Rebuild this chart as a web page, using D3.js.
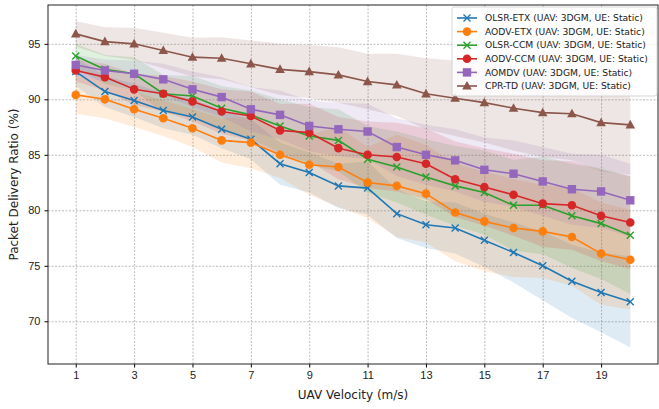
<!DOCTYPE html>
<html>
<head>
<meta charset="utf-8">
<script src="https://cdn.jsdelivr.net/npm/d3@7"></script>
<style>
  body { margin: 0; background: #fff; }
  svg { display: block; font-family: "DejaVu Sans", sans-serif; }
</style>
</head>
<body>
<div id="chart"></div>
<script>
// the data
const velocity = [1, 2, 3, 4, 5, 6, 7, 8, 9, 10, 11, 12, 13, 14, 15, 16, 17, 18, 19, 20];
const xTicks = [1, 3, 5, 7, 9, 11, 13, 15, 17, 19];
const yTicks = [70, 75, 80, 85, 90, 95];

const olsrEtx = [92.5, 90.7, 89.9, 89.0, 88.4, 87.3, 86.4, 84.2, 83.4, 82.2, 82.0, 79.7, 78.7, 78.4, 77.3, 76.2, 75.0, 73.6, 72.6, 71.75];
const olsrEtxLow = [91.2, 89.3, 88.4, 87.4, 86.8, 85.6, 84.6, 82.3, 81.6, 80.2, 79.6, 77.5, 76.6, 76.1, 74.9, 73.5, 71.9, 70.3, 69.0, 67.65];
const olsrEtxHigh = [93.8, 92.1, 91.4, 90.6, 90.0, 89.0, 88.2, 86.1, 85.2, 84.2, 84.4, 81.9, 80.8, 80.7, 79.7, 78.9, 78.1, 76.9, 76.2, 75.85];

const aodvEtx = [90.4, 90.0, 89.1, 88.3, 87.4, 86.3, 86.1, 85.0, 84.1, 83.9, 82.5, 82.2, 81.5, 79.8, 79.0, 78.4, 78.1, 77.6, 76.1, 75.55];
const aodvEtxLow = [88.7, 88.3, 87.5, 86.7, 85.7, 84.3, 83.8, 82.9, 81.4, 80.3, 79.3, 77.6, 77.1, 75.4, 74.5, 74.0, 73.9, 73.2, 71.5, 71.05];
const aodvEtxHigh = [92.1, 91.7, 90.7, 89.9, 89.1, 88.3, 88.4, 87.1, 86.8, 87.5, 85.7, 86.8, 85.9, 84.2, 83.5, 82.8, 82.3, 82.0, 80.7, 80.05];

const olsrCcm = [93.9, 92.7, 92.3, 90.5, 90.3, 89.2, 88.6, 87.6, 86.7, 86.3, 84.6, 83.9, 83.0, 82.2, 81.6, 80.45, 80.45, 79.5, 78.8, 77.75];
const olsrCcmLow = [92.8, 91.4, 90.8, 88.8, 88.5, 87.2, 86.4, 85.2, 84.1, 83.5, 81.6, 80.7, 79.6, 78.6, 77.8, 76.35, 76.05, 74.8, 73.8, 72.45];
const olsrCcmHigh = [95.0, 94.0, 93.8, 92.2, 92.1, 91.2, 90.8, 90.0, 89.3, 89.1, 87.6, 87.1, 86.4, 85.8, 85.4, 84.55, 84.85, 84.2, 83.8, 83.05];

const aodvCcm = [92.6, 92.0, 90.9, 90.5, 89.8, 88.9, 88.5, 87.2, 87.0, 85.6, 85.0, 84.8, 84.2, 82.8, 82.1, 81.4, 80.6, 80.45, 79.5, 78.9];
const aodvCcmLow = [91.6, 90.8, 89.5, 88.9, 88.0, 86.9, 86.3, 84.8, 84.4, 82.8, 82.0, 81.7, 81.0, 79.4, 78.6, 77.7, 76.7, 76.45, 75.4, 74.7];
const aodvCcmHigh = [93.6, 93.2, 92.3, 92.1, 91.6, 90.9, 90.7, 89.6, 89.6, 88.4, 88.0, 87.9, 87.4, 86.2, 85.6, 85.1, 84.5, 84.45, 83.6, 83.1];

const aomdv = [93.1, 92.6, 92.3, 91.8, 90.9, 90.2, 89.1, 88.6, 87.6, 87.3, 87.1, 85.7, 85.0, 84.5, 83.65, 83.3, 82.6, 81.9, 81.7, 80.9];
const aomdvLow = [92.2, 91.6, 91.1, 90.4, 89.3, 88.4, 87.1, 86.4, 85.3, 84.9, 84.6, 83.1, 82.3, 81.7, 80.75, 80.3, 79.5, 78.7, 78.4, 77.6];
const aomdvHigh = [94.0, 93.6, 93.5, 93.2, 92.5, 92.0, 91.1, 90.8, 89.9, 89.7, 89.6, 88.3, 87.7, 87.3, 86.55, 86.3, 85.7, 85.1, 85.0, 84.2];

const cprTd = [95.9, 95.2, 95.0, 94.4, 93.8, 93.7, 93.2, 92.7, 92.5, 92.2, 91.6, 91.3, 90.5, 90.1, 89.7, 89.2, 88.8, 88.7, 87.9, 87.7];
const cprTdLow = [94.75, 93.9, 93.55, 92.8, 92.05, 91.8, 91.1, 90.4, 90.1, 89.7, 89.1, 88.5, 87.3, 86.7, 86.1, 85.4, 84.8, 84.5, 83.5, 83.2];
const cprTdHigh = [97.05, 96.5, 96.45, 96.0, 95.55, 95.6, 95.3, 95.0, 94.9, 94.7, 94.1, 94.1, 93.7, 93.5, 93.3, 93.0, 92.8, 92.9, 92.3, 92.2];

const series = [
    { name: "OLSR-ETX (UAV: 3DGM, UE: Static)", color: "#1f77b4", marker: "x", mean: olsrEtx, low: olsrEtxLow, high: olsrEtxHigh },
    { name: "AODV-ETX (UAV: 3DGM, UE: Static)", color: "#ff7f0e", marker: "circle", mean: aodvEtx, low: aodvEtxLow, high: aodvEtxHigh },
    { name: "OLSR-CCM (UAV: 3DGM, UE: Static)", color: "#2ca02c", marker: "x", mean: olsrCcm, low: olsrCcmLow, high: olsrCcmHigh },
    { name: "AODV-CCM (UAV: 3DGM, UE: Static)", color: "#d62728", marker: "circle", mean: aodvCcm, low: aodvCcmLow, high: aodvCcmHigh },
    { name: "AOMDV (UAV: 3DGM, UE: Static)", color: "#9467bd", marker: "square", mean: aomdv, low: aomdvLow, high: aomdvHigh },
    { name: "CPR-TD (UAV: 3DGM, UE: Static)", color: "#8c564b", marker: "triangle", mean: cprTd, low: cprTdLow, high: cprTdHigh }
];

// the sizes
const width = 659, height = 409;
const margins = { top: 5, left: 48, bottom: 45, right: 1 };

const svg = d3.select("#chart").append("svg")
    .attr("width", width).attr("height", height);

const xScale = d3.scaleLinear().domain([0.05, 20.95])
    .range([margins.left, width - margins.right]);
const yScale = d3.scaleLinear().domain([66.15, 98.5])
    .range([height - margins.bottom, margins.top]);

// gridlines
svg.append("g").attr("class", "xGrid")
    .attr("transform", "translate(0," + (height - margins.bottom) + ")")
    .call(d3.axisBottom(xScale).tickValues(xTicks)
        .tickSize(-(height - margins.top - margins.bottom)).tickFormat(() => ""))
    .call(g => g.select(".domain").remove())
    .call(g => g.selectAll("line").attr("stroke", "#aaa")
        .attr("stroke-width", 0.8).attr("stroke-dasharray", "2,1.5"));
svg.append("g").attr("class", "yGrid")
    .attr("transform", "translate(" + margins.left + ",0)")
    .call(d3.axisLeft(yScale).tickValues(yTicks)
        .tickSize(-(width - margins.left - margins.right)).tickFormat(() => ""))
    .call(g => g.select(".domain").remove())
    .call(g => g.selectAll("line").attr("stroke", "#aaa")
        .attr("stroke-width", 0.8).attr("stroke-dasharray", "2,1.5"));

// the bands
const area = d3.area()
    .x((d, i) => xScale(velocity[i]))
    .y0(d => yScale(d[0]))
    .y1(d => yScale(d[1]));
series.forEach(s => {
    svg.append("path")
        .datum(s.low.map((v, i) => [v, s.high[i]]))
        .attr("fill", s.color).attr("fill-opacity", 0.15)
        .attr("d", area);
});

// marker drawing
function drawMarker(g, type, color) {
    if (type === "x") {
        g.append("path").attr("d", "M-3.5,-3.5L3.5,3.5M-3.5,3.5L3.5,-3.5")
            .attr("stroke", color).attr("stroke-width", 1.4).attr("fill", "none");
    } else if (type === "circle") {
        g.append("circle").attr("r", 4.3).attr("fill", color);
    } else if (type === "square") {
        g.append("rect").attr("x", -4.2).attr("y", -4.2).attr("width", 8.4).attr("height", 8.4)
            .attr("fill", color);
    } else {
        g.append("path").attr("d", "M0,-5L4.8,3.6L-4.8,3.6Z").attr("fill", color);
    }
}

// the lines
const line = d3.line()
    .x((d, i) => xScale(velocity[i]))
    .y(d => yScale(d));
series.forEach(s => {
    svg.append("path").datum(s.mean)
        .attr("fill", "none").attr("stroke", s.color)
        .attr("stroke-width", 1.6).attr("d", line);
    s.mean.forEach((v, i) => {
        const g = svg.append("g")
            .attr("transform", "translate(" + xScale(velocity[i]) + "," + yScale(v) + ")");
        drawMarker(g, s.marker, s.color);
    });
});

// the axes
svg.append("g").attr("class", "x-axis")
    .attr("transform", "translate(0," + (height - margins.bottom) + ")")
    .call(d3.axisBottom(xScale).tickValues(xTicks).tickSize(3.5).tickPadding(4))
    .call(g => g.select(".domain").remove())
    .call(g => g.selectAll("text").style("font-size", "11px").attr("fill", "#222"));
svg.append("g").attr("class", "y-axis")
    .attr("transform", "translate(" + margins.left + ",0)")
    .call(d3.axisLeft(yScale).tickValues(yTicks).tickSize(3.5).tickPadding(4))
    .call(g => g.select(".domain").remove())
    .call(g => g.selectAll("text").style("font-size", "11px").attr("fill", "#222"));

// frame
svg.append("rect")
    .attr("x", margins.left).attr("y", margins.top)
    .attr("width", width - margins.left - margins.right)
    .attr("height", height - margins.top - margins.bottom)
    .attr("fill", "none").attr("stroke", "#222").attr("stroke-width", 1);

// axis labels
svg.append("text").attr("text-anchor", "middle")
    .attr("x", (margins.left + width - margins.right) / 2).attr("y", 399)
    .style("font-size", "12px").attr("fill", "#222").text("UAV Velocity (m/s)");
svg.append("text").attr("text-anchor", "middle")
    .attr("transform", "translate(18," + ((margins.top + height - margins.bottom) / 2) + ") rotate(-90)")
    .style("font-size", "12px").attr("fill", "#222").text("Packet Delivery Ratio (%)");

// legend
const legend = svg.append("g").attr("transform", "translate(452,7)");
legend.append("rect").attr("width", 205).attr("height", 89).attr("rx", 2.5)
    .attr("fill", "#fff").attr("fill-opacity", 0.8)
    .attr("stroke", "#ccc").attr("stroke-width", 0.8);
series.forEach((s, i) => {
    const row = legend.append("g").attr("transform", "translate(0," + (11 + i * 13.6) + ")");
    row.append("line").attr("x1", 5).attr("x2", 25)
        .attr("stroke", s.color).attr("stroke-width", 1.6);
    drawMarker(row.append("g").attr("transform", "translate(15,0)"), s.marker, s.color);
    row.append("text").attr("x", 33).attr("dy", "0.35em")
        .style("font-size", "9.2px").attr("fill", "#222").text(s.name);
});
</script>
</body>
</html>
